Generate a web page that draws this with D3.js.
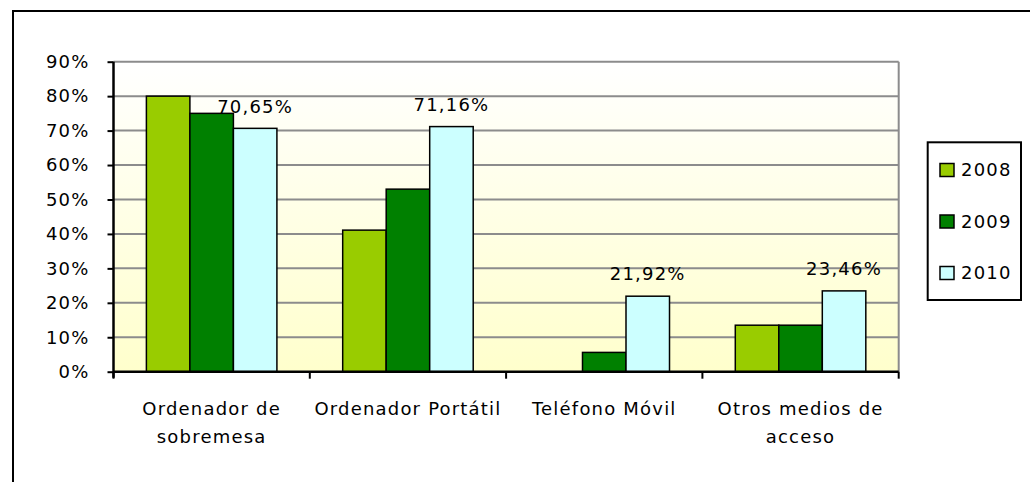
<!DOCTYPE html>
<html>
<head>
<meta charset="utf-8">
<script src="https://cdn.jsdelivr.net/npm/d3@7"></script>
<style>
  body { margin: 0; background: #fff; }
  text { font-family: "DejaVu Sans", sans-serif; font-size: 18px; letter-spacing: 1.2px; fill: #000; }
</style>
</head>
<body>
<svg width="1030" height="482"></svg>
<script>
var categories = ["Ordenador de\nsobremesa", "Ordenador Portátil", "Teléfono Móvil", "Otros medios de\nacceso"];
var years = ["2008", "2009", "2010"];
var v2008 = [0.80, 0.411, 0, 0.135];
var v2009 = [0.75, 0.53, 0.056, 0.135];
var v2010 = [0.7065, 0.7116, 0.2192, 0.2346];
var labels2010 = ["70,65%", "71,16%", "21,92%", "23,46%"];
var yTicks = [0, 0.1, 0.2, 0.3, 0.4, 0.5, 0.6, 0.7, 0.8, 0.9];
var colors = ["#99cc00", "#008000", "#ccffff"];

var svg = d3.select("svg");
var pL = 113.5, pR = 898.7, pT = 61.7, pB = 371.7;

var series = [v2008, v2009, v2010];
var rows = categories.map(function(c, i) {
  return { cat: c, vals: series.map(function(s, j) { return { year: years[j], v: s[i], i: j }; }) };
});

var x0 = d3.scaleBand().domain(categories).range([pL, pR]).padding(0);
var x1 = d3.scaleBand().domain(years).range([0, x0.bandwidth()]).paddingInner(0).paddingOuter(0.756);
var y = d3.scaleLinear().domain([0, 0.9]).range([pB, pT]);

// outer chart frame
svg.append("rect")
  .attr("x", 13).attr("y", 11)
  .attr("width", 1040).attr("height", 500)
  .attr("fill", "#fff").attr("stroke", "#000").attr("stroke-width", 2);

// plot background gradient
var grad = svg.append("defs").append("linearGradient")
  .attr("id", "bg").attr("x1", 0).attr("y1", 0).attr("x2", 0).attr("y2", 1);
grad.append("stop").attr("offset", "0%").attr("stop-color", "#ffffff");
grad.append("stop").attr("offset", "100%").attr("stop-color", "#ffffcc");

svg.append("rect")
  .attr("x", pL).attr("y", pT)
  .attr("width", pR - pL).attr("height", pB - pT)
  .attr("fill", "url(#bg)");

// gridlines
svg.append("g").selectAll("line")
  .data(yTicks.filter(function(d) { return d > 0; }))
  .enter().append("line")
  .attr("x1", pL).attr("x2", pR)
  .attr("y1", function(d) { return y(d); })
  .attr("y2", function(d) { return y(d); })
  .attr("stroke", "#8c8c8c").attr("stroke-width", 2);

svg.append("line")
  .attr("x1", pR).attr("x2", pR)
  .attr("y1", pT).attr("y2", pB)
  .attr("stroke", "#8c8c8c").attr("stroke-width", 2);

// bars
var groups = svg.append("g").selectAll("g")
  .data(rows)
  .enter().append("g")
  .attr("transform", function(d) { return "translate(" + x0(d.cat) + ",0)"; });

groups.selectAll("rect")
  .data(function(d) { return d.vals.filter(function(b) { return b.v > 0; }); })
  .enter().append("rect")
  .attr("x", function(d) { return x1(d.year); })
  .attr("width", x1.bandwidth())
  .attr("y", function(d) { return y(d.v); })
  .attr("height", function(d) { return pB - y(d.v); })
  .attr("fill", function(d) { return colors[d.i]; })
  .attr("stroke", "#000").attr("stroke-width", 1.5);

// data labels on 2010
groups.append("text")
  .attr("x", function(d) { return x1("2010") + x1.bandwidth() / 2; })
  .attr("y", function(d, i) { return y(v2010[i]) - 22; })
  .attr("dy", "0.35em")
  .attr("text-anchor", "middle")
  .text(function(d, i) { return labels2010[i]; });

// y axis
var yAxis = svg.append("g")
  .attr("transform", "translate(" + pL + ",0)")
  .call(d3.axisLeft(y).tickValues(yTicks).tickFormat(d3.format(".0%")).tickSize(6).tickPadding(18));
yAxis.select(".domain").attr("stroke", "#000").attr("stroke-width", 2.5).attr("d", "M0," + pT + "V" + (pB + 6));
yAxis.selectAll(".tick line").attr("stroke", "#000").attr("stroke-width", 2);
yAxis.selectAll(".tick text").attr("font-family", null).attr("font-size", null).attr("fill", null);

// x axis
var xAxis = svg.append("g")
  .attr("transform", "translate(0," + pB + ")")
  .call(d3.axisBottom(x0).tickSize(0).tickFormat(""));
xAxis.select(".domain").attr("stroke", "#000").attr("stroke-width", 2.5).attr("d", "M" + pL + ",0H" + pR);
xAxis.selectAll(".bound")
  .data(categories.concat([null]))
  .enter().append("line")
  .attr("x1", function(d, i) { return pL + i * x0.step(); })
  .attr("x2", function(d, i) { return pL + i * x0.step(); })
  .attr("y1", 0).attr("y2", 7)
  .attr("stroke", "#000").attr("stroke-width", 2);

var xl = svg.append("g").selectAll("text")
  .data(categories)
  .enter().append("text")
  .attr("text-anchor", "middle")
  .attr("x", function(d) { return x0(d) + x0.bandwidth() / 2; })
  .attr("y", 409);
xl.selectAll("tspan")
  .data(function(d) { return d.split("\n"); })
  .enter().append("tspan")
  .attr("x", function() { return this.parentNode.getAttribute("x"); })
  .attr("dy", function(d, i) { return i === 0 ? "0.35em" : "28px"; })
  .text(function(d) { return d; });

// legend
var lg = svg.append("g");
lg.append("rect")
  .attr("x", 927.7).attr("y", 142.3)
  .attr("width", 93.3).attr("height", 157.7)
  .attr("fill", "#fff").attr("stroke", "#000").attr("stroke-width", 2);
var items = lg.selectAll("g.item")
  .data(years)
  .enter().append("g").attr("class", "item")
  .attr("transform", function(d, i) { return "translate(940," + (170 + i * 51.5) + ")"; });
items.append("rect")
  .attr("x", 0).attr("y", -6.5)
  .attr("width", 14).attr("height", 13)
  .attr("fill", function(d, i) { return colors[i]; })
  .attr("stroke", "#000").attr("stroke-width", 1.5);
items.append("text")
  .attr("x", 21).attr("dy", "0.35em")
  .text(function(d) { return d; });
</script>
</body>
</html>
